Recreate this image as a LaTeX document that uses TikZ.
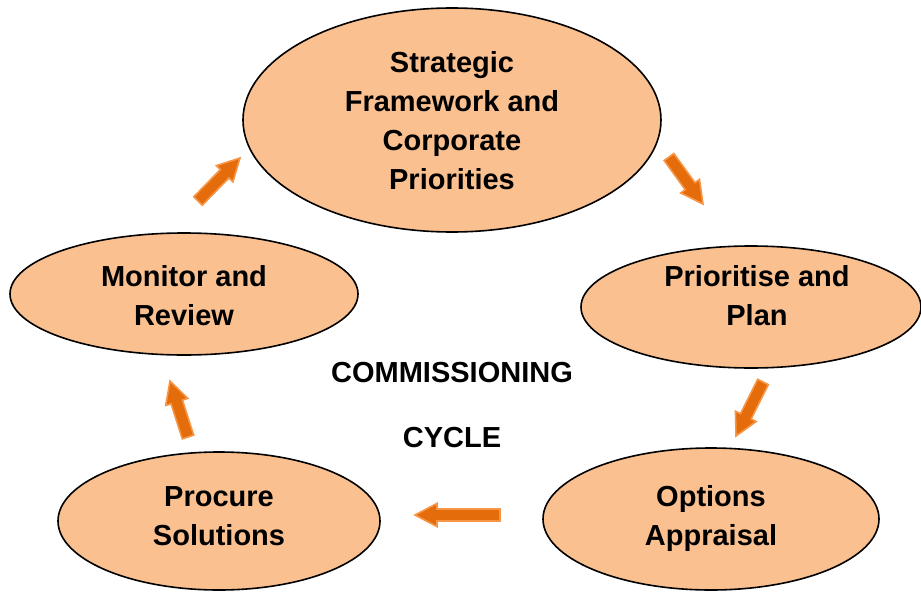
\documentclass[tikz,border=0pt]{standalone}
\usepackage{fontspec}
\setmainfont{Liberation Sans}
\usetikzlibrary{shapes.geometric,calc}

\definecolor{stagefill}{HTML}{FAC090}
\definecolor{arrowfill}{HTML}{E46C0A}
\definecolor{arrowedge}{HTML}{F79646}

% Block arrow from #1 to #2 (shaft, triangular head)
\newcommand\blockarrow[2]{%
  \coordinate (hb) at ($(#2)!11pt!(#1)$);
  \filldraw[fill=arrowfill, draw=arrowedge, line width=0.8pt, line join=miter]
    ($(#1)!3pt!90:(#2)$) -- ($(hb)!3pt!90:(#2)$) -- ($(hb)!5.8pt!90:(#2)$)
    -- (#2) -- ($(hb)!5.8pt!-90:(#2)$) -- ($(hb)!3pt!-90:(#2)$)
    -- ($(#1)!3pt!-90:(#2)$) -- cycle;}

\begin{document}
\begin{tikzpicture}[x=0.5pt,y=-0.5pt,
  stage/.style={ellipse, draw=black, line width=0.8pt, fill=stagefill, inner sep=0pt},
  stagetext/.style={align=center, font=\fontsize{14.5}{19.5}\selectfont\bfseries},
  titletext/.style={font=\fontsize{14.5}{19.5}\selectfont\bfseries}]
  \useasboundingbox (0,0) rectangle (921,594);

  % the five stages
  \node[stage, minimum width=209pt, minimum height=112pt] (strategy) at (452,120) {};
  \node[stage, minimum width=170pt, minimum height=61pt] (plan) at (751,307) {};
  \node[stage, minimum width=168pt, minimum height=71pt] (options) at (711,519) {};
  \node[stage, minimum width=161pt, minimum height=69pt] (procure) at (219,521) {};
  \node[stage, minimum width=174pt, minimum height=61pt] (monitor) at (184,294) {};

  \node[stagetext] (strategyT) at (452,121) {Strategic\\Framework and\\Corporate\\Priorities};
  \node[stagetext] (planT) at (757,296) {Prioritise and\\Plan};
  \node[stagetext] (optionsT) at (711,518) {Options\\Appraisal};
  \node[stagetext] (procureT) at (219,516) {Procure\\Solutions};
  \node[stagetext] (monitorT) at (184,296) {Monitor and\\Review};

  % centre title
  \node[titletext] (cyc1) at (452,373) {COMMISSIONING};
  \node[titletext] (cyc2) at (452,438) {CYCLE};

  % arrows between stages
  \coordinate (a1s) at (198,201); \coordinate (a1e) at (240,158);
  \coordinate (a2s) at (669,157); \coordinate (a2e) at (703,204);
  \coordinate (a3s) at (763,382); \coordinate (a3e) at (736,436);
  \coordinate (a4s) at (500,515); \coordinate (a4e) at (415,515);
  \coordinate (a5s) at (188,437); \coordinate (a5e) at (170,381);
  \blockarrow{a1s}{a1e}
  \blockarrow{a2s}{a2e}
  \blockarrow{a3s}{a3e}
  \blockarrow{a4s}{a4e}
  \blockarrow{a5s}{a5e}
\end{tikzpicture}
\end{document}
